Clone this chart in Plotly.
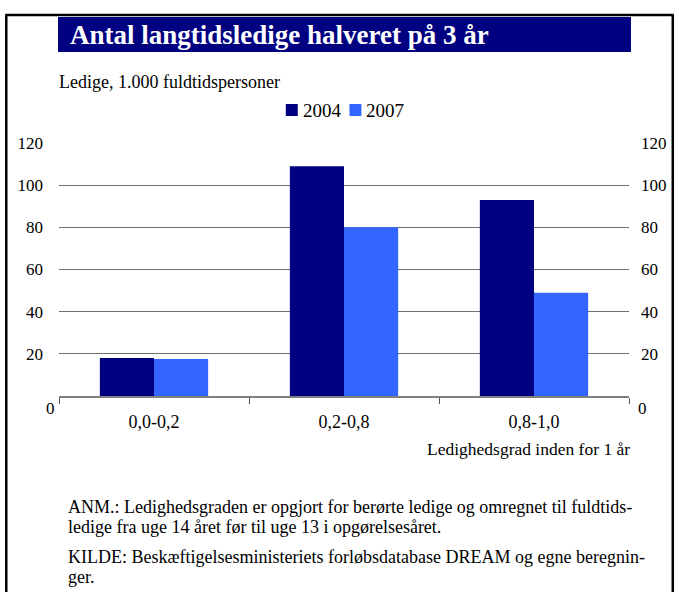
import plotly.graph_objects as go

categories = ["0,0-0,2", "0,2-0,8", "0,8-1,0"]
values_2004 = [18, 109, 93]
values_2007 = [17.5, 80, 49]
series_names = ["2004", "2007"]
series_colors = ["#000080", "#3366FF"]
tick_vals = [20, 40, 60, 80, 100, 120]

W, H = 679, 592
L, R, T, B = 59, 632, 143, 396
FONT = "Liberation Serif"


def px(x):
    return (x - L) / (R - L)


def py(y):
    return (B - y) / (B - T)


fig = go.Figure()
fig.add_trace(go.Bar(x=categories, y=values_2004, name=series_names[0],
                     marker=dict(color=series_colors[0], line=dict(width=0))))
fig.add_trace(go.Bar(x=categories, y=values_2007, name=series_names[1],
                     marker=dict(color=series_colors[1], line=dict(width=0))))
# invisible trace for right axis
fig.add_trace(go.Scatter(x=categories, y=[None, None, None], yaxis="y2",
                         showlegend=False, hoverinfo="skip"))

fig.update_layout(
    width=W, height=H, autosize=False,
    margin=dict(l=L, r=W - R, t=T, b=H - B, pad=0),
    paper_bgcolor="white", plot_bgcolor="white",
    font=dict(family=FONT, size=17, color="black"),
    barmode="group", bargap=0.43, bargroupgap=0,
    showlegend=False,
    xaxis=dict(showgrid=False, showline=True, linecolor="#808080", linewidth=1.5,
               ticks="outside", tickson="boundaries", ticklen=6, tickcolor="#555555",
               tickwidth=1, tickfont=dict(size=18, family=FONT), zeroline=False,
               ticklabelstandoff=9),
    yaxis=dict(range=[0, 120], tickvals=tick_vals, showgrid=True, gridcolor="#707070",
               gridwidth=1, showline=False, zeroline=False, ticks="",
               tickfont=dict(size=17, family=FONT), ticklabelstandoff=15),
    yaxis2=dict(range=[0, 120], tickvals=tick_vals, overlaying="y", side="right",
                showgrid=False, showline=False, zeroline=False, ticks="",
                tickfont=dict(size=17, family=FONT), ticklabelstandoff=11),
)

shapes = []
# outer frame
shapes.append(dict(type="line", xref="paper", yref="paper", x0=px(6), x1=px(6), y0=py(15), y1=py(600),
                   line=dict(color="black", width=2.5)))
shapes.append(dict(type="line", xref="paper", yref="paper", x0=px(5), x1=px(677), y0=py(15), y1=py(15),
                   line=dict(color="black", width=2.5)))
shapes.append(dict(type="line", xref="paper", yref="paper", x0=px(676), x1=px(676), y0=py(15), y1=py(600),
                   line=dict(color="black", width=2.5)))
# title banner
shapes.append(dict(type="rect", xref="paper", yref="paper", x0=px(58), x1=px(634), y0=py(52), y1=py(17),
                   fillcolor="#000080", line=dict(width=0), layer="below"))

ann = []
# legend (manual, to match the tight symbol/text spacing)
legend_x = [287, 351]
for name, color, lx in zip(series_names, series_colors, legend_x):
    shapes.append(dict(type="rect", xref="paper", yref="paper", x0=px(lx), x1=px(lx + 12),
                       y0=py(116), y1=py(104), fillcolor=color, line=dict(width=0)))
    ann.append(dict(text=name, x=px(lx + 15), y=py(110), xref="paper", yref="paper",
                    xanchor="left", yanchor="middle", showarrow=False,
                    font=dict(size=19, family=FONT)))
fig.update_layout(shapes=shapes)

ann.append(dict(text="<b>Antal langtidsledige halveret på 3 år</b>", x=px(68), y=py(35),
                xref="paper", yref="paper", xanchor="left", yanchor="middle", showarrow=False,
                font=dict(size=27, color="white", family=FONT)))
ann.append(dict(text="Ledige, 1.000 fuldtidspersoner", x=px(57), y=py(82),
                xref="paper", yref="paper", xanchor="left", yanchor="middle", showarrow=False,
                font=dict(size=18, family=FONT)))
ann.append(dict(text="0", x=px(50), y=py(408), xref="paper", yref="paper", xanchor="center",
                yanchor="middle", showarrow=False, font=dict(size=17, family=FONT)))
ann.append(dict(text="0", x=px(646), y=py(408), xref="paper", yref="paper", xanchor="center",
                yanchor="middle", showarrow=False, font=dict(size=17, family=FONT)))
ann.append(dict(text="Ledighedsgrad inden for 1 år", x=px(635), y=py(449), xref="paper", yref="paper",
                xanchor="right", yanchor="middle", showarrow=False, font=dict(size=17.5, family=FONT)))
notes = [
    ("ANM.: Ledighedsgraden er opgjort for berørte ledige og omregnet til fuldtids-", 507),
    ("ledige fra uge 14 året før til uge 13 i opgørelsesåret.", 527),
    ("KILDE: Beskæftigelsesministeriets forløbsdatabase DREAM og egne beregnin-", 557),
    ("ger.", 577),
]
for t, y in notes:
    ann.append(dict(text=t, x=px(66), y=py(y), xref="paper", yref="paper", xanchor="left",
                    yanchor="middle", showarrow=False, font=dict(size=18, family=FONT)))
fig.update_layout(annotations=ann)

fig.write_html("out.html", config={"displayModeBar": False},
               post_script="document.body.style.margin='0';document.body.style.padding='0';")
